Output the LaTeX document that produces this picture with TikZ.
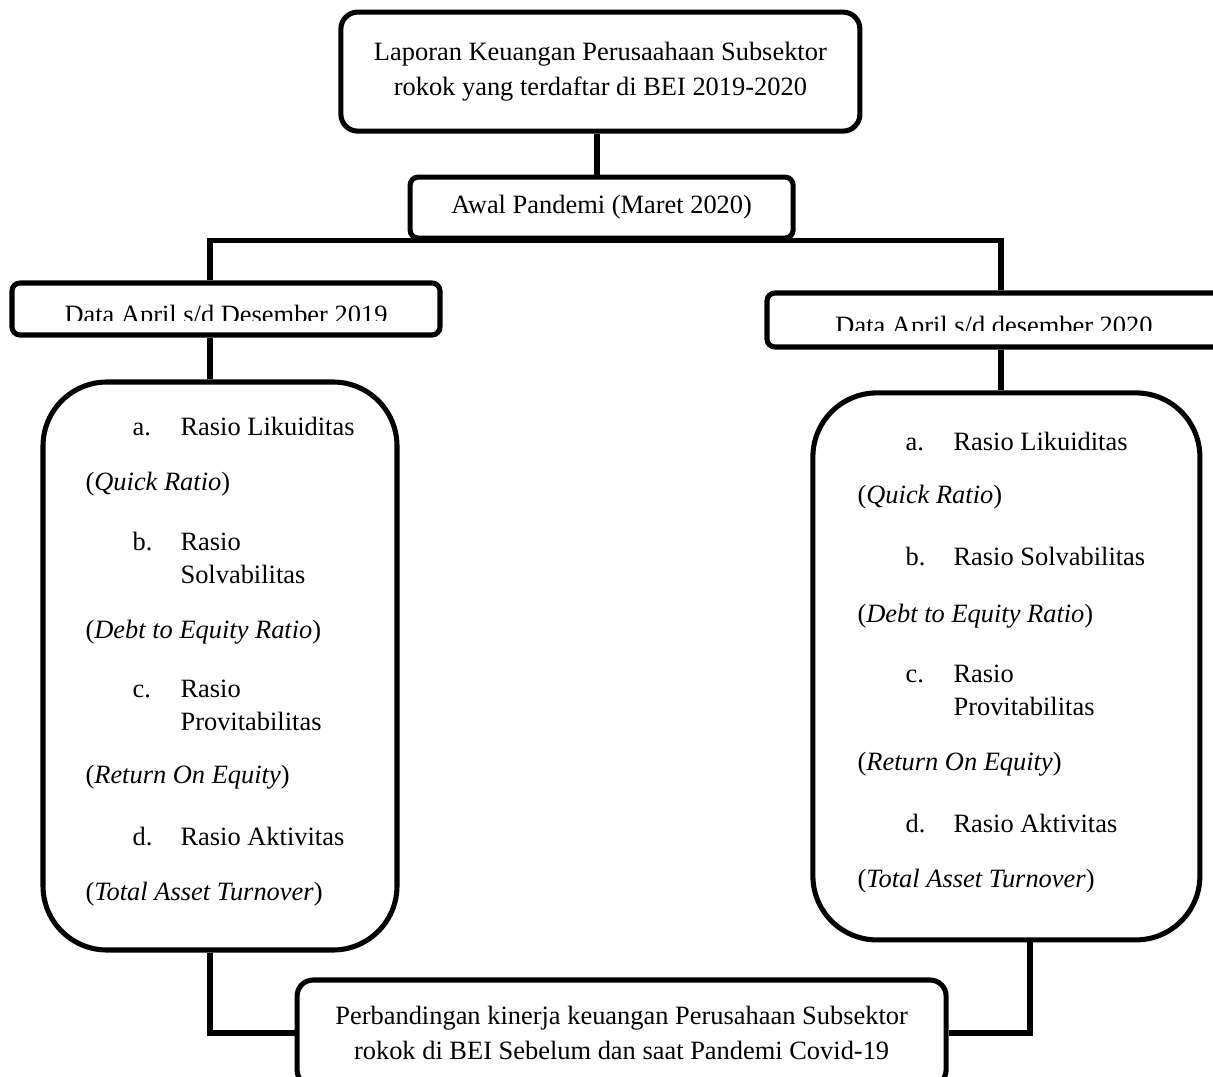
\documentclass[tikz,border=0pt]{standalone}
\usepackage{fontspec}
\setmainfont{Liberation Serif}
\usepackage{tikz}

\begin{document}
\begin{tikzpicture}[thick,
    box/.style={draw, rectangle, line width=3.6pt, fill=white, align=center, inner sep=0pt,
        font=\fontsize{18.8}{24.5}\selectfont},
    link/.style={line width=3.6pt},
    txt/.style={anchor=base west, inner sep=0pt, font=\fontsize{18.8}{24.5}\selectfont}]

    \clip (0,0) rectangle (30.325,-26.925);

    % columns of the connectors
    \coordinate (colM) at (14.925,0);
    \coordinate (colL) at (5.25,0);
    \coordinate (colR) at (25.025,0);
    \coordinate (colRb) at (25.75,0);

    \node[box, rounded corners=0.42cm, minimum width=12.975cm, minimum height=2.975cm] (top) at (15.01,-1.79)
        {Laporan Keuangan Perusaahaan Subsektor\\rokok yang terdaftar di BEI 2019-2020};
    \node[box, rounded corners=0.2cm, minimum width=9.575cm, minimum height=1.525cm] (mid) at (15.04,-5.19)
        {Awal Pandemi (Maret 2020)};
    \node[box, rounded corners=0.2cm, minimum width=10.7cm, minimum height=1.3cm] (dataL) at (5.65,-7.725) {};
    \node[box, rounded corners=0.2cm, minimum width=11.35cm, minimum height=1.35cm] (dataR) at (24.85,-8.0) {};
    \node[box, rounded corners=1.6cm, minimum width=8.85cm, minimum height=14.2cm] (boxL) at (5.5,-16.65) {};
    \node[box, rounded corners=1.6cm, minimum width=9.675cm, minimum height=13.675cm] (boxR) at (25.16,-16.66) {};
    \node[box, rounded corners=0.4cm, minimum width=16.225cm, minimum height=2.65cm] (final) at (15.54,-25.825)
        {Perbandingan kinerja keuangan Perusahaan Subsektor\\rokok di BEI Sebelum dan saat Pandemi Covid-19};

    % texts cut off at the bottom
    \begin{scope}
        \clip (0,-7) rectangle (30.325,-8.0);
        \node[txt, anchor=base] (dataLtxt) at (5.65,-8.075) {Data April s/d Desember 2019};
    \end{scope}
    \begin{scope}
        \clip (0,-7.5) rectangle (30.325,-8.25);
        \node[txt, anchor=base] (dataRtxt) at (24.85,-8.36) {Data April s/d desember 2020};
    \end{scope}

    % left list
    \foreach \lab/\name/\y [count=\i] in {a./Rasio Likuiditas/-10.875, b./Rasio/-13.75, c./Rasio/-17.425, d./Rasio Aktivitas/-21.125} {
        \node[txt] (lLab\i) at (3.3,\y) {\lab};
        \node[txt] (lItem\i) at (4.5,\y) {\name};
    }
    \foreach \name/\y [count=\i] in {Solvabilitas/-14.575, Provitabilitas/-18.25}
        \node[txt] (lMore\i) at (4.5,\y) {\name};
    \foreach \name/\y [count=\i] in {Quick Ratio/-12.25, Debt to Equity Ratio/-15.95, Return On Equity/-19.575, Total Asset Turnover/-22.5}
        \node[txt] (lPar\i) at (2.125,\y) {(\textit{\name})};

    % right list
    \foreach \lab/\name/\y [count=\i] in {a./Rasio Likuiditas/-11.25, b./Rasio Solvabilitas/-14.125, c./Rasio/-17.05, d./Rasio Aktivitas/-20.8} {
        \node[txt] (rLab\i) at (22.625,\y) {\lab};
        \node[txt] (rItem\i) at (23.825,\y) {\name};
    }
    \node[txt] (rMore1) at (23.825,-17.875) {Provitabilitas};
    \foreach \name/\y [count=\i] in {Quick Ratio/-12.575, Debt to Equity Ratio/-15.55, Return On Equity/-19.25, Total Asset Turnover/-22.175}
        \node[txt] (rPar\i) at (21.425,\y) {(\textit{\name})};

    \draw[link] (top.south -| colM) -- (mid.north -| colM);
    \draw[link] (mid.south) -| (dataL.north -| colL);
    \draw[link] (mid.south) -| (dataR.north -| colR);
    \draw[link] (dataL.south -| colL) -- (boxL.north -| colL);
    \draw[link] (dataR.south -| colR) -- (boxR.north -| colR);
    \draw[link] (boxL.south -| colL) |- (final.west);
    \draw[link] (boxR.south -| colRb) |- (final.east);
\end{tikzpicture}
\end{document}
